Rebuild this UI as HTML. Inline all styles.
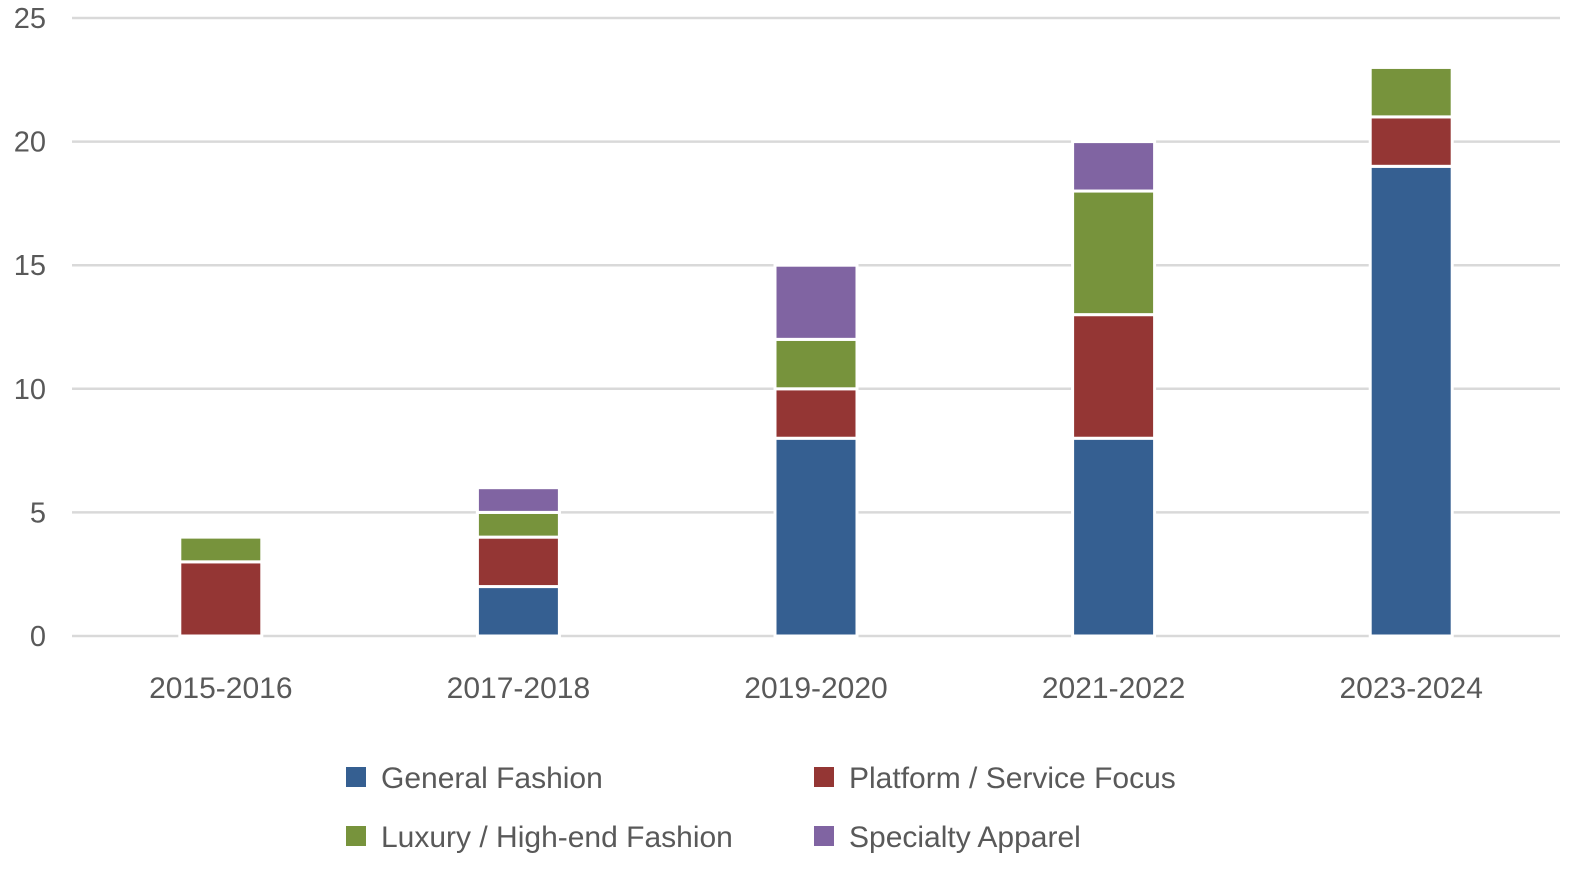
<!DOCTYPE html>
<html><head><meta charset="utf-8"><style>
html,body{margin:0;padding:0;background:#fff;}
svg text{font-family:"Liberation Sans","DejaVu Sans",sans-serif;fill:#595959;}
</style></head><body>
<svg id="chart" width="1595" height="878" viewBox="0 0 1595 878" xmlns="http://www.w3.org/2000/svg">
<g id="grid"></g>
<g id="yticks"></g>
<g id="bars"></g>
<g id="xticks"></g>
<g id="legend"></g>
</svg>
<script>
const categories = ["2015-2016","2017-2018","2019-2020","2021-2022","2023-2024"];
const generalFashion = [0,2,8,8,19];
const platformService = [3,2,2,5,2];
const luxuryFashion = [1,1,2,5,2];
const specialtyApparel = [0,1,3,2,0];
const yTicks = [0,5,10,15,20,25];
const seriesNames = ["General Fashion","Platform / Service Focus","Luxury / High-end Fashion","Specialty Apparel"];
const seriesColors = ["#355f91","#943634","#77933c","#8064a2"];
const series = [generalFashion, platformService, luxuryFashion, specialtyApparel];

const NS="http://www.w3.org/2000/svg";
const plotL=72, plotR=1560, y0=636, yTop=18, yMax=25;
const yScale=v=>y0-(v/yMax)*(y0-yTop);
const band=(plotR-plotL)/categories.length;
const xCenter=i=>plotL+band*(i+0.5);
const barW=82;
function mk(tag,attrs,parent){const e=document.createElementNS(NS,tag);for(const k in attrs)e.setAttribute(k,attrs[k]);parent.appendChild(e);return e;}

const grid=document.getElementById('grid'), yt=document.getElementById('yticks');
yTicks.forEach(t=>{
  const l=mk('line',{x1:plotL,x2:plotR,y1:yScale(t),y2:yScale(t),stroke:'#d9d9d9','stroke-width':2.5},grid);
  
  
  const tx=mk('text',{x:46,y:yScale(t)+10,'text-anchor':'end','font-size':29},yt);
  tx.textContent=t;
  
  
});

const bars=document.getElementById('bars'), xt=document.getElementById('xticks');
categories.forEach((c,i)=>{
  let acc=0;
  series.forEach((s,si)=>{
    const v=s[i]; if(!v) return;
    const yA=yScale(acc), yB=yScale(acc+v);
    const r=mk('rect',{x:xCenter(i)-barW/2,y:yB,width:barW,height:yA-yB,fill:seriesColors[si],stroke:'#fff','stroke-width':3},bars);
    
    
    acc+=v;
  });
  const tx=mk('text',{x:xCenter(i),y:698,'text-anchor':'middle','font-size':30},xt);
  tx.textContent=c;
  
  
});

const lg=document.getElementById('legend');
const lpos=[[346,777],[814,777],[346,836],[814,836]];
seriesNames.forEach((n,i)=>{
  const [x,y]=lpos[i];
  const r=mk('rect',{x:x,y:y-10,width:20,height:20,fill:seriesColors[i]},lg);
  
  
  const t=mk('text',{x:x+35,y:y+11,'font-size':30},lg);
  t.textContent=n;
  
  
});
</script>
</body></html>
